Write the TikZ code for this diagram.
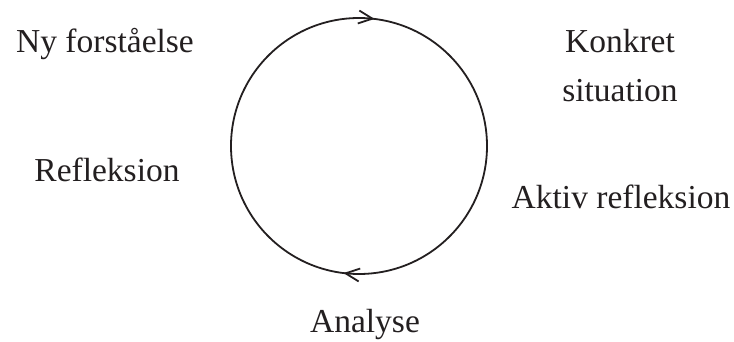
\documentclass[tikz,border=0pt]{standalone}
\usepackage{fontspec}
\setmainfont{Liberation Serif}
\usetikzlibrary{arrows.meta,decorations.markings}
\definecolor{ink}{HTML}{231F20}
\tikzset{
  lbl/.style={anchor=base, inner sep=0pt, text=ink, font=\fontsize{33.5}{40}\selectfont},
  cyc/.style={draw=ink, line width=1.8pt, postaction=decorate,
    decoration={markings,
      mark=at position 0.2306 with {\arrowreversed{Straight Barb[length=14pt,width=13pt,line width=1.8pt]}},
      mark=at position 0.7306 with {\arrowreversed{Straight Barb[length=14pt,width=13pt,line width=1.8pt]}}}}
}
\begin{document}
\begin{tikzpicture}[x=1pt,y=1pt]
\useasboundingbox (0,0) rectangle (734,-342);
\coordinate (c) at (359,-146);
\draw[cyc] (c) circle (128);
\node[lbl] (ny) at (105,-53) {Ny forståelse};
\node[lbl] (kon) at (620,-53) {Konkret};
\node[lbl] (sit) at (620,-102) {situation};
\node[lbl] (ref) at (107,-182) {Refleksion};
\node[lbl] (akt) at (621,-208) {Aktiv refleksion};
\node[lbl] (ana) at (365,-332) {Analyse};
\end{tikzpicture}
\end{document}
